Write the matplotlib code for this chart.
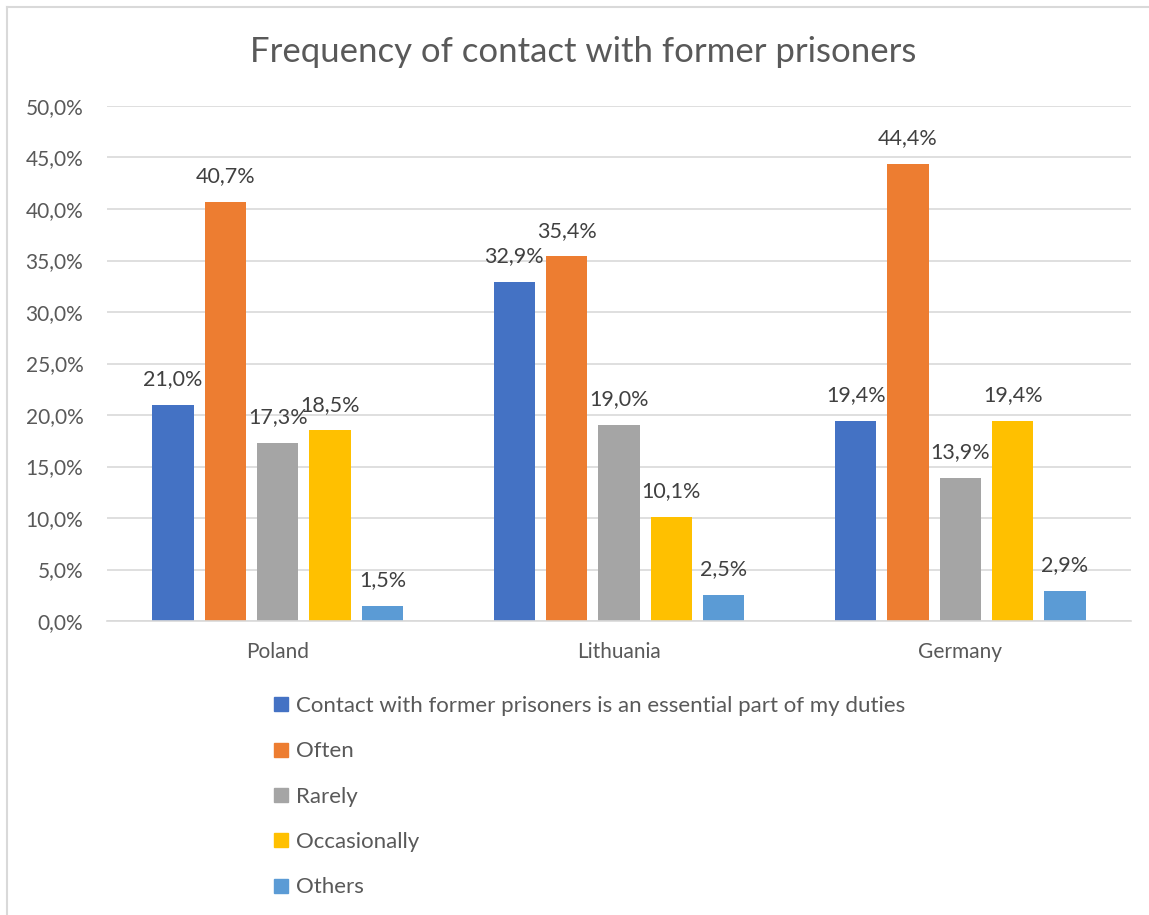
import matplotlib.pyplot as plt
from matplotlib.lines import Line2D
import numpy as np

plt.rcParams['font.family'] = ['Lato', 'DejaVu Sans']

countries = ['Poland', 'Lithuania', 'Germany']
series_names = ['Contact with former prisoners is an essential part of my duties',
                'Often', 'Rarely', 'Occasionally', 'Others']
essential = [21.0, 32.9, 19.4]
often = [40.7, 35.4, 44.4]
rarely = [17.3, 19.0, 13.9]
occasionally = [18.5, 10.1, 19.4]
others = [1.5, 2.5, 2.9]
colors = ['#4472C4', '#ED7D31', '#A5A5A5', '#FFC000', '#5B9BD5']

values = [essential, often, rarely, occasionally, others]

fig = plt.figure(figsize=(11.49, 9.15), dpi=100)
W, H = 1149, 915
ax = fig.add_axes([107 / W, 1 - 621 / H, (1131 - 107) / W, (621 - 106) / H])

x = np.arange(len(countries))
pitch = 0.1534
bw = 0.121
txt = '#404040'
for i, vals in enumerate(values):
    pos = x + (i - 2) * pitch
    ax.bar(pos, vals, width=bw, color=colors[i], zorder=3)
    for p, v in zip(pos, vals):
        ax.text(p, v + 2.5, f'{v:.1f}%'.replace('.', ','), ha='center', va='center',
                fontsize=15.5, color=txt)

ax.set_xlim(-0.5, 2.5)
ax.set_ylim(0, 50)
ax.set_yticks(np.arange(0, 51, 5))
ax.set_yticklabels([f'{t:.1f}%'.replace('.', ',') for t in np.arange(0, 51, 5)])
ax.set_xticks(x)
ax.set_xticklabels(countries)
ax.tick_params(axis='both', length=0, labelsize=15, labelcolor='#595959')
ax.tick_params(axis='x', pad=15)
ax.tick_params(axis='y', pad=17)
ax.grid(axis='y', color='#D9D9D9', linewidth=1.2, zorder=0)
for s in ['top', 'right', 'left']:
    ax.spines[s].set_visible(False)
ax.spines['bottom'].set_color('#D9D9D9')
ax.spines['bottom'].set_linewidth(1.2)
ax.spines['bottom'].set_zorder(4)

fig.text(583 / W, 1 - 52 / H, 'Frequency of contact with former prisoners', ha='center', va='center',
         fontsize=25, color='#595959')

handles = [Line2D([], [], marker='s', linestyle='', markersize=10, color=c) for c in colors]
fig.legend(handles, series_names, loc='upper left', bbox_to_anchor=(248 / W, 1 - 676 / H),
           frameon=False, fontsize=16, labelspacing=1.14, handletextpad=0.05, handlelength=1.2,
           labelcolor='#595959')

# chart border (only left/top visible in the crop)
fig.add_artist(Line2D([7 / W, 7 / W], [0, 1 - 7 / H], color='#D9D9D9', linewidth=1.5))
fig.add_artist(Line2D([7 / W, 1], [1 - 7 / H, 1 - 7 / H], color='#D9D9D9', linewidth=1.5))

fig.savefig('out.png', dpi=100)
